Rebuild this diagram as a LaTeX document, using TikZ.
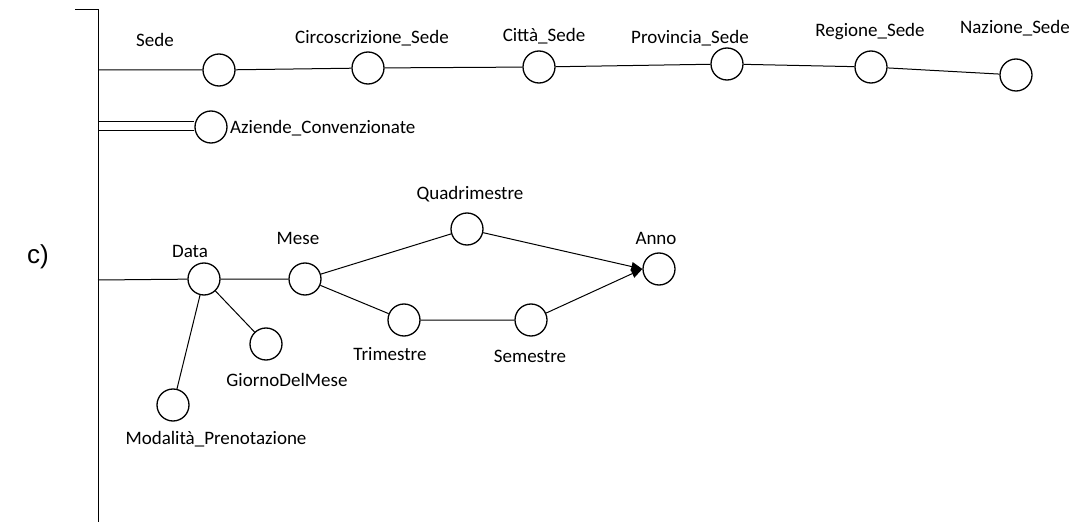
\documentclass[tikz,border=0pt]{standalone}
\usepackage{fontspec}
\setmainfont{Carlito}
\newfontfamily\labelsans{Liberation Sans}
\usetikzlibrary{arrows.meta}
\begin{document}
\begin{tikzpicture}[x=1pt,y=-1pt,
  attr/.style={circle,draw,line width=1.3pt,minimum size=32pt,inner sep=0pt},
  lbl/.style={font=\fontsize{19}{22}\selectfont,inner sep=0pt},
  link/.style={line width=1pt},
  tip/.style={line width=1pt,-{Triangle[length=11pt,width=9pt]}}]
\path[use as bounding box] (0,0) rectangle (1080,532);

% main spine of the schema
\coordinate (spTop) at (98,10);
\coordinate (spBot) at (98,522);
\coordinate (tick) at (75,10);
\draw[link] (tick) -- (spTop) -- (spBot);
\node[font=\labelsans\fontsize{26}{30}\selectfont,inner sep=0pt] (tag) at (38,257) {c)};

% location hierarchy
\node[attr] (sede) at (219,70) {};
\node[attr] (circ) at (368,68) {};
\node[attr] (citta) at (539,67) {};
\node[attr] (prov) at (727,64) {};
\node[attr] (reg) at (871,67) {};
\node[attr] (naz) at (1016,75) {};
\node[lbl] (lsede) at (155,40) {Sede};
\node[lbl] (lcirc) at (372,38) {Circoscrizione\_Sede};
\node[lbl] (lcitta) at (544,36) {Città\_Sede};
\node[lbl] (lprov) at (690,38) {Provincia\_Sede};
\node[lbl] (lreg) at (870,32) {Regione\_Sede};
\node[lbl] (lnaz) at (1015,28) {Nazione\_Sede};
\coordinate (sedeIn) at (98,70);
\draw[link] (sedeIn) -- (sede) -- (circ) -- (citta) -- (prov) -- (reg) -- (naz);

% multivalued attribute
\node[attr] (az) at (211,127) {};
\node[lbl,anchor=west] (laz) at (230,128) {Aziende\_Convenzionate};
\coordinate (azA) at (98,122);
\coordinate (azB) at (98,131);
\draw[link] (azA) -- (az.west |- azA);
\draw[link] (azB) -- (az.west |- azB);

% time hierarchy
\node[attr] (data) at (204,279) {};
\node[attr] (mese) at (305,279) {};
\node[attr] (quad) at (467,229) {};
\node[attr] (anno) at (659,269) {};
\node[attr] (trim) at (404,320) {};
\node[attr] (sem) at (531,320) {};
\node[attr] (giorno) at (266,344) {};
\node[attr] (moda) at (173,405) {};
\node[lbl] (ldata) at (190,251) {Data};
\node[lbl] (lmese) at (298,238) {Mese};
\node[lbl] (lquad) at (470,194) {Quadrimestre};
\node[lbl] (lanno) at (656,238) {Anno};
\node[lbl] (ltrim) at (390,354) {Trimestre};
\node[lbl] (lsem) at (530,356) {Semestre};
\node[lbl] (lgiorno) at (287,380) {GiornoDelMese};
\node[lbl] (lmoda) at (216,439) {Modalità\_Prenotazione};
\coordinate (dataIn) at (98,280);
\draw[link] (dataIn) -- (data) -- (mese) -- (quad);
\draw[link] (mese) -- (trim) -- (sem);
\draw[link] (data) -- (giorno);
\draw[link] (data) -- (moda);
\draw[tip] (quad) -- (anno.west);
\draw[tip] (sem) -- (anno.west);
\end{tikzpicture}
\end{document}
